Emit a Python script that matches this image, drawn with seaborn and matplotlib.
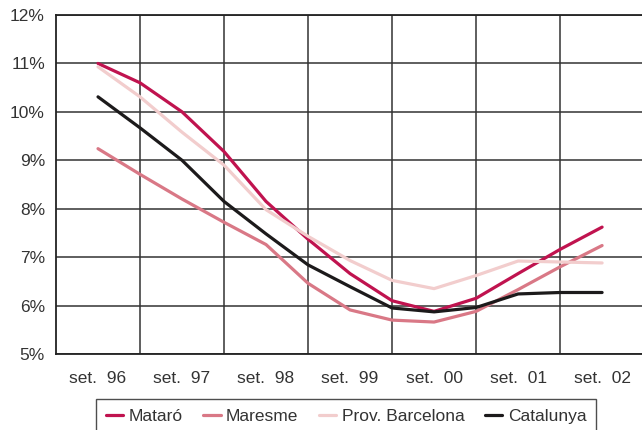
import numpy as np
import pandas as pd
import matplotlib
matplotlib.use("Agg")
import matplotlib.pyplot as plt
import seaborn as sns

# semiannual points, set. 96 ... set. 02
periods = list(range(13))
tick_labels = ["set.  96", "set.  97", "set.  98", "set.  99", "set.  00", "set.  01", "set.  02"]

mataro = [11.0, 10.6, 10.0, 9.18, 8.15, 7.37, 6.66, 6.1, 5.88, 6.15, 6.66, 7.16, 7.62]
maresme = [9.24, 8.71, 8.2, 7.72, 7.26, 6.46, 5.91, 5.7, 5.66, 5.88, 6.33, 6.8, 7.24]
prov_bcn = [10.93, 10.31, 9.58, 8.9, 7.98, 7.43, 6.93, 6.52, 6.35, 6.62, 6.92, 6.9, 6.88]
catalunya = [10.31, 9.67, 9.0, 8.15, 7.48, 6.84, 6.39, 5.95, 5.87, 5.96, 6.24, 6.27, 6.27]

series_names = ["Mataró", "Maresme", "Prov. Barcelona", "Catalunya"]
colors = ["#C0134F", "#D97886", "#F2CDCD", "#1C1A1B"]

df = pd.DataFrame({"periode": periods * 4,
                   "atur": mataro + maresme + prov_bcn + catalunya,
                   "zona": sum([[n] * 13 for n in series_names], [])})

sns.set_style("white")
plt.rcParams["font.family"] = ["Liberation Sans", "DejaVu Sans"]

fig = plt.figure(figsize=(6.42, 4.30), dpi=100)
ax = fig.add_axes([56 / 642, 1 - 354 / 430, 1 - 56 / 642, (354 - 15) / 430])

sns.lineplot(data=df, x="periode", y="atur", hue="zona", hue_order=series_names,
             palette=dict(zip(series_names, colors)), linewidth=2.3, ax=ax, legend=False)

ax.set_xlim(-1, 12.95)
ax.set_ylim(5, 12)
ax.set_xticks(periods[::2])
ax.set_xticklabels(tick_labels, fontsize=12.5, color="#333333")
ax.set_xticks(periods[1::2], minor=True)
ax.set_yticks(range(5, 13))
ax.set_yticklabels([f"{v}%" for v in range(5, 13)], fontsize=12.5, color="#333333")
ax.tick_params(axis="both", which="both", length=0)
ax.tick_params(axis="x", pad=12)
ax.tick_params(axis="y", pad=8)
ax.grid(False)
ax.grid(True, axis="x", which="minor", color="#333333", linewidth=1.1)
ax.grid(True, axis="y", which="major", color="#333333", linewidth=1.1)
ax.set_xlabel("")
ax.set_ylabel("")

for side in ["left", "bottom", "top"]:
    ax.spines[side].set_visible(True)
    ax.spines[side].set_color("#222222")
    ax.spines[side].set_linewidth(1.3)
ax.spines["right"].set_visible(False)

handles = [plt.Line2D([], [], color=c, linewidth=2.3) for c in colors]
leg = fig.legend(handles, series_names, loc="upper center", bbox_to_anchor=(346 / 642, 1 - 399 / 430),
                 ncol=4, fontsize=12.5, frameon=True, fancybox=False, handlelength=1.0,
                 handletextpad=0.3, columnspacing=1.2, borderpad=0.55, borderaxespad=0)
leg.get_frame().set_edgecolor("#222222")
leg.get_frame().set_linewidth(1.0)
for t in leg.get_texts():
    t.set_color("#333333")

fig.savefig("out.png", dpi=100)
